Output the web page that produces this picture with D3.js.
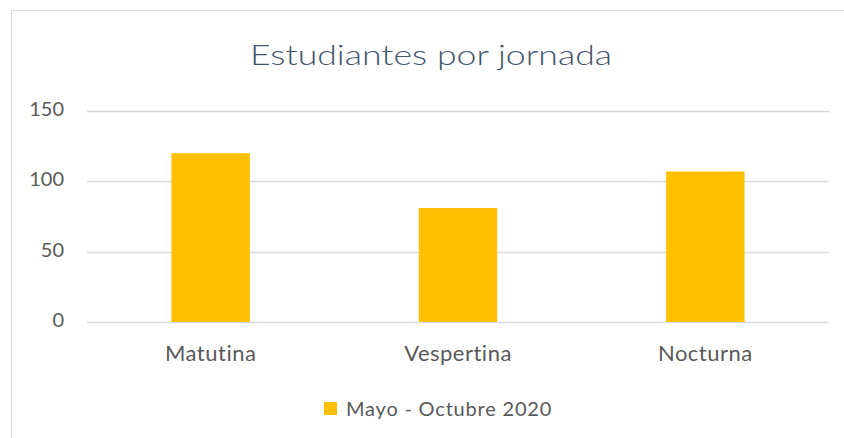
<!DOCTYPE html>
<html lang="es">
<head>
<meta charset="utf-8">
<title>Estudiantes por jornada</title>
<script src="https://cdn.jsdelivr.net/npm/d3@7"></script>
<style>
  body { margin: 0; background: #fff; }
  text { font-family: Lato, "Open Sans", sans-serif; }
</style>
</head>
<body>
<script>
// data
const categories = ["Matutina", "Vespertina", "Nocturna"];
const values = [120, 81, 107];
const seriesName = "Mayo - Octubre 2020";
const yTicks = [0, 50, 100, 150];

const w = 844, h = 438;
const margin = {top: 111, right: 15, bottom: 116, left: 87};

const svg = d3.select("body").append("svg")
  .attr("width", w)
  .attr("height", h);

// chart border
svg.append("rect")
  .attr("x", 11.5).attr("y", 10.5)
  .attr("width", 840).attr("height", 440)
  .attr("fill", "#fff")
  .attr("stroke", "#d9d9d9");

const x = d3.scaleBand()
  .domain(categories)
  .range([margin.left, w - margin.right])
  .paddingInner(0.683)
  .paddingOuter(0.3415);

const y = d3.scaleLinear()
  .domain([0, 150])
  .range([h - margin.bottom, margin.top]);

// title (stretched a bit, like the original)
svg.append("text")
  .attr("x", 250).attr("y", 65)
  .attr("font-size", 27)
  .attr("font-weight", 300)
  .attr("fill", "#44546a")
  .attr("textLength", 362)
  .attr("lengthAdjust", "spacingAndGlyphs")
  .text("Estudiantes por jornada");

// gridlines
svg.append("g")
  .selectAll("line")
  .data(yTicks)
  .join("line")
  .attr("x1", margin.left).attr("x2", w - margin.right)
  .attr("y1", d => Math.round(y(d)) + 0.5)
  .attr("y2", d => Math.round(y(d)) + 0.5)
  .attr("stroke", "#d9d9d9")
  .attr("stroke-width", 1.3);

// y axis labels
const yAxis = svg.append("g")
  .attr("transform", `translate(${margin.left - 23},-2)`)
  .call(d3.axisLeft(y).tickValues(yTicks).tickSize(0).tickPadding(0));
yAxis.select(".domain").remove();
yAxis.selectAll("text")
  .attr("font-size", 20)
  .attr("fill", "#595959")
  .style("font-family", "Lato, sans-serif");

// bars
svg.append("g")
  .selectAll("rect")
  .data(values)
  .join("rect")
  .attr("x", (d, i) => x(categories[i]))
  .attr("y", d => y(d))
  .attr("width", x.bandwidth())
  .attr("height", d => y(0) - y(d))
  .attr("fill", "#ffc000");

// x axis labels
const xAxis = svg.append("g")
  .attr("transform", `translate(0,${h - margin.bottom + 23})`)
  .call(d3.axisBottom(x).tickSize(0).tickPadding(0));
xAxis.select(".domain").remove();
xAxis.selectAll("text")
  .attr("font-size", 22)
  .attr("letter-spacing", 0.5)
  .attr("fill", "#595959")
  .style("font-family", "Lato, sans-serif");

// legend
const legend = svg.append("g").attr("transform", "translate(324,402)");
legend.append("rect")
  .attr("width", 13).attr("height", 13)
  .attr("fill", "#ffc000");
legend.append("text")
  .attr("x", 22).attr("y", 14)
  .attr("font-size", 20)
  .attr("letter-spacing", 0.8)
  .attr("fill", "#595959")
  .text(seriesName);
</script>
</body>
</html>
